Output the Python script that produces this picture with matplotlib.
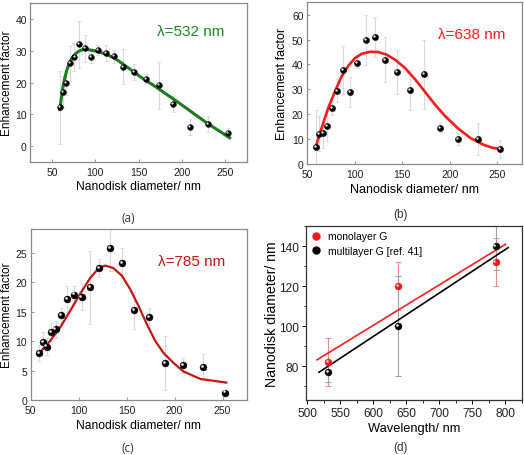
import matplotlib
matplotlib.use("Agg")
import matplotlib.pyplot as plt
import matplotlib.transforms as mtransforms
from matplotlib.ticker import MultipleLocator

plt.rcParams['font.family'] = ['Liberation Sans', 'DejaVu Sans']

# ---------------- data ----------------
diameter = [59, 62.5, 66.5, 71, 76, 81.5, 88, 95, 103, 112, 121.5, 132.5,
            145, 158, 173, 190, 209, 230, 253]

ef_532 = [12.2, 17, 20, 26, 28, 32, 30.7, 28, 30.2, 29.2, 28.2, 25, 23.2,
          21.2, 19.1, 13.2, 6.1, 7, 4.2]
err_532 = [11.5, 5, 4, 5.5, 4.5, 7.5, 4.3, 2, 1.5, 2.5, 2, 5.5, 2.5, 1.5,
           7.5, 2.5, 2.5, 2.5, 1.5]

ef_638 = [6.9, 12.2, 12.6, 15.3, 22.5, 29.5, 37.8, 29, 40.7, 49.8, 51.1,
          41.9, 37, 29.9, 36, 14.4, 10.1, 10, 6]
err_638 = [15, 7, 6, 6, 3, 4.5, 9.5, 6, 2, 10, 8, 9, 9, 8, 14, 2, 2.5, 6.5, 3.5]

ef_785 = [8.0, 9.9, 9.1, 11.6, 12.0, 14.4, 17.1, 17.9, 17.4, 19.1, 22.4,
          25.8, 23.2, 15.2, 14.1, 6.3, 5.9, 5.6, 1.3]
err_785 = [1.3, 1.6, 1.5, 1.5, 1.5, 1.3, 2.2, 1.5, 2.2, 6.2, 1.5, 4, 2.5,
           3.2, 1.5, 4.5, 1.2, 2.2, 0.3]

# fitted curves
fit532_x = [59, 60.5, 62, 64, 67, 70.5, 75, 80, 85, 90, 97, 105, 113, 122,
            132, 142, 152, 170, 197, 227, 255]
fit532_y = [11.5, 14.5, 17.5, 20.5, 23.8, 26.4, 28.4, 29.7, 30.3, 30.4,
            30.1, 29.6, 28.8, 27.7, 25.8, 23.8, 21.8, 18.6, 13.5, 7.6, 2.6]

fit638_x = [59, 65.5, 72.4, 79.5, 86.5, 93.5, 100.5, 107.6, 116.3, 125,
            134, 142.6, 153, 163.7, 174.2, 184.7, 195, 209, 222, 235, 245, 254]
fit638_y = [6.7, 14.6, 22.6, 29.3, 35.3, 39.5, 42.6, 44.3, 45.1, 45.0,
            43.9, 41.9, 38.6, 34.0, 28.9, 23.8, 19.3, 14.2, 10.4, 7.8, 6.5, 6.0]

fit785_x = [59, 70, 80.6, 91, 101.5, 112, 120.6, 127.6, 136, 145, 153.7,
            162.3, 171, 180, 188.5, 199, 209, 227, 254]
fit785_y = [8.0, 10.0, 12.3, 15.1, 18.0, 20.7, 22.3, 22.8, 22.4, 21.1,
            18.8, 16.0, 12.9, 10.0, 8.0, 6.3, 4.9, 3.6, 3.0]

wavelength = [532, 638, 785]
mono_d = [82, 120, 132]
mono_err = [12, 12, 12]
multi_d = [77, 100, 140]
multi_err = [5, 25, 12]
mono_fit_x = [515, 800]
mono_fit_y = [83.2, 141]
multi_fit_x = [518, 804]
multi_fit_y = [77, 139.3]

# ---------------- figure ----------------
fig = plt.figure(figsize=(5.24, 4.56), dpi=100)

axa = fig.add_axes([0.0578, 0.6425, 0.4136, 0.3487])
axb = fig.add_axes([0.5859, 0.6382, 0.4103, 0.3546])
axc = fig.add_axes([0.0586, 0.1200, 0.4128, 0.3757])
axd = fig.add_axes([0.5834, 0.1200, 0.4128, 0.3816])


def balls(ax, x, y, color, ms, hl='white'):
    ax.plot(x, y, 'o', color=color, ms=ms, mec=color, mew=0.3, zorder=4,
            linestyle='none')
    tr = mtransforms.offset_copy(ax.transData, fig=fig, x=-ms * 0.17,
                                 y=ms * 0.17, units='points')
    ax.plot(x, y, 'o', color=hl, ms=ms * 0.38, mew=0, transform=tr,
            zorder=5, alpha=0.9, linestyle='none')


def style_gray(ax):
    for s in ax.spines.values():
        s.set_color('#8a8a8a')
        s.set_linewidth(0.9)
    ax.tick_params(direction='in', length=2, width=0.6, color='#8a8a8a',
                   labelsize=7.5, labelcolor='#222222', pad=3.5)
    ax.tick_params(axis='y', pad=2.5)


err_col = '#dadada'

# (a)
axa.errorbar(diameter, ef_532, yerr=err_532, fmt='none', ecolor=err_col,
             elinewidth=0.8, capsize=1.2, capthick=0.6, zorder=1)
axa.plot(fit532_x, fit532_y, color='#1b7d1b', lw=2.2, zorder=3)
balls(axa, diameter, ef_532, 'black', 4.2)
axa.set_xlim(25, 275)
axa.set_ylim(-5, 45)
axa.xaxis.set_major_locator(MultipleLocator(50))
axa.yaxis.set_major_locator(MultipleLocator(10))
style_gray(axa)
axa.set_xlabel('Nanodisk diameter/ nm', fontsize=8.7, labelpad=2)
axa.set_ylabel('Enhancement factor', fontsize=8.5, va='center')
axa.yaxis.set_label_coords(-0.108, 0.5)
axa.text(0.585, 0.824, 'λ=532 nm', transform=axa.transAxes, color='#1b8a1b',
         fontsize=11, va='center', ha='left')

# (b)
axb.errorbar(diameter, ef_638, yerr=err_638, fmt='none', ecolor=err_col,
             elinewidth=0.8, capsize=1.2, capthick=0.6, zorder=1)
axb.plot(fit638_x, fit638_y, color='#f51c1c', lw=1.9, zorder=3)
balls(axb, diameter, ef_638, 'black', 4.5)
axb.set_xlim(50, 276)
axb.set_ylim(0, 65)
axb.xaxis.set_major_locator(MultipleLocator(50))
axb.yaxis.set_major_locator(MultipleLocator(10))
style_gray(axb)
axb.set_xlabel('Nanodisk diameter/ nm', fontsize=9, labelpad=3)
axb.set_ylabel('Enhancement factor', fontsize=9, va='center')
axb.yaxis.set_label_coords(-0.116, 0.5)
axb.text(0.609, 0.806, 'λ=638 nm', transform=axb.transAxes, color='#f51c1c',
         fontsize=11, va='center', ha='left')

# (c)
axc.errorbar(diameter, ef_785, yerr=err_785, fmt='none', ecolor=err_col,
             elinewidth=0.8, capsize=1.2, capthick=0.6, zorder=1)
axc.plot(fit785_x, fit785_y, color='#c4170f', lw=1.6, zorder=3)
balls(axc, diameter, ef_785, 'black', 5.0)
axc.set_xlim(50, 275.5)
axc.set_ylim(0, 29)
axc.xaxis.set_major_locator(MultipleLocator(50))
axc.yaxis.set_major_locator(MultipleLocator(5))
style_gray(axc)
axc.set_xlabel('Nanodisk diameter/ nm', fontsize=8.7, labelpad=3)
axc.set_ylabel('Enhancement factor', fontsize=8.5, va='center')
axc.yaxis.set_label_coords(-0.108, 0.5)
axc.text(0.59, 0.811, 'λ=785 nm', transform=axc.transAxes, color='#c4170f',
         fontsize=11, va='center', ha='left')

# (d)
axd.errorbar(wavelength, mono_d, yerr=mono_err, fmt='none', ecolor='#f08a8a',
             elinewidth=0.8, capsize=2, capthick=0.7, zorder=1)
axd.errorbar(wavelength, multi_d, yerr=multi_err, fmt='none', ecolor='#a0a0a0',
             elinewidth=0.8, capsize=2, capthick=0.7, zorder=1)
axd.plot(mono_fit_x, mono_fit_y, color='#ff1f1f', lw=1.2, zorder=2)
axd.plot(multi_fit_x, multi_fit_y, color='black', lw=1.2, zorder=2)
balls(axd, wavelength, mono_d, '#f01818', 5.0, hl='#ffd0d0')
balls(axd, wavelength, multi_d, 'black', 5.0)
axd.set_xlim(498, 825)
axd.set_ylim(63, 150)
axd.xaxis.set_major_locator(MultipleLocator(50))
axd.xaxis.set_minor_locator(MultipleLocator(25))
axd.yaxis.set_major_locator(MultipleLocator(20))
axd.yaxis.set_minor_locator(MultipleLocator(10))
for s in axd.spines.values():
    s.set_color('#333333')
    s.set_linewidth(0.9)
axd.tick_params(which='major', direction='out', length=3, width=0.7,
                labelsize=8.6, labelcolor='#222222', pad=2)
axd.tick_params(which='minor', direction='out', length=1.8, width=0.6)
axd.set_xlabel('Wavelength/ nm', fontsize=9.3, labelpad=2)
axd.set_ylabel('Nanodisk diameter/ nm', fontsize=10.2, va='center')
axd.yaxis.set_label_coords(-0.156, 0.5)

# legend in (d)
h1, = axd.plot([], [], 'o', color='#f01818', ms=5, linestyle='none')
h2, = axd.plot([], [], 'o', color='black', ms=5, linestyle='none')
axd.legend([h1, h2], ['monolayer G', 'multilayer G [ref. 41]'],
           loc='upper left', frameon=False, fontsize=7.5, handletextpad=0.6,
           borderaxespad=0.2, labelspacing=0.4, borderpad=0.3,
           handlelength=1.0)

# panel letters
fig.text(128.3 / 524, 1 - 218.3 / 456, '(a)', ha='center', va='center',
         fontsize=8.5, family=['Open Sans', 'DejaVu Sans'], color='#333333')
fig.text(400.3 / 524, 1 - 215 / 456, '(b)', ha='center', va='center',
         fontsize=8.5, color='#333333')
fig.text(128.3 / 524, 1 - 448.3 / 456, '(c)', ha='center', va='center',
         fontsize=8.5, family=['Open Sans', 'DejaVu Sans'], color='#333333')
fig.text(400.3 / 524, 1 - 448.3 / 456, '(d)', ha='center', va='center',
         fontsize=8.5, color='#333333')

fig.savefig('out.png', dpi=100)
